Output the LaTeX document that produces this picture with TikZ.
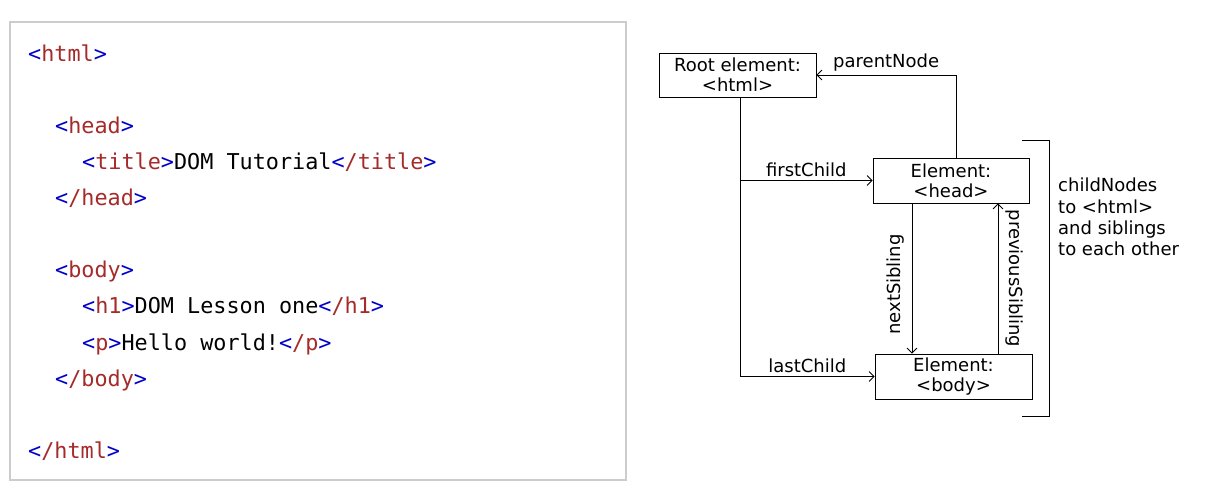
\documentclass[tikz,border=0pt]{standalone}
\usepackage{fontspec}
\setmainfont{DejaVu Sans}
\newfontfamily\codefont{DejaVu Sans Mono}
\usetikzlibrary{arrows.meta,positioning}
\definecolor{tagblue}{HTML}{0000CD}
\definecolor{tagred}{HTML}{A52A2A}
\definecolor{boxgray}{HTML}{CCCCCC}
\newcommand{\optag}[1]{\textcolor{tagblue}{<}\textcolor{tagred}{#1}\textcolor{tagblue}{>}}
\newcommand{\cltag}[1]{\textcolor{tagblue}{<}\textcolor{tagred}{/#1}\textcolor{tagblue}{>}}

\begin{document}
\begin{tikzpicture}[x=1pt,y=-1pt,
    codeline/.style={anchor=base west,inner sep=0pt,font=\codefont\fontsize{21.8}{24}\selectfont},
    elem/.style={draw,thick,minimum width=157pt,minimum height=45pt,inner sep=0pt,align=center,
      font=\fontsize{18}{20}\selectfont},
    lbl/.style={inner sep=1pt,font=\fontsize{18}{19.5}\selectfont},
    arr/.style={thick,-{Straight Barb[length=5pt,width=10pt]}}]
  \useasboundingbox (0,0) rectangle (1228,502);
  % code panel
  \draw[boxgray,line width=2pt] (10,22) rectangle (626,480);
  \node[codeline] (lhtml) at (28,62) {\optag{html}};
  \node[codeline] (lhead) at (55,134) {\optag{head}};
  \node[codeline] (ltitle) at (82,170) {\optag{title}DOM Tutorial\cltag{title}};
  \node[codeline] (lheadend) at (55,206) {\cltag{head}};
  \node[codeline] (lbody) at (55,278) {\optag{body}};
  \node[codeline] (lhone) at (82,314) {\optag{h1}DOM Lesson one\cltag{h1}};
  \node[codeline] (lpara) at (82,350) {\optag{p}Hello world!\cltag{p}};
  \node[codeline] (lbodyend) at (55,386) {\cltag{body}};
  \node[codeline] (lhtmlend) at (28,458) {\cltag{html}};
  % tree
  \node[elem,minimum height=44pt] (root) at (737.5,75) {Root element:\\<html>};
  \node[elem,minimum width=156pt] (head) at (951,180.5) {Element:\\<head>};
  \node[elem] (body) at (953.5,376.5) {Element:\\<body>};
  \coordinate (fork) at (740,0);
  \coordinate (up) at (956,0);
  \coordinate (nx) at (912,0);
  \coordinate (pv) at (998,0);
  \draw[thick] (root.south -| fork) -- (body.west -| fork);
  \draw[arr] (head.west -| fork) -- node[lbl,above=2pt] {firstChild} (head.west);
  \draw[arr] (body.west -| fork) -- node[lbl,above=2pt] {lastChild} (body.west);
  \draw[arr] (head.north -| up) |- node[lbl,pos=0.75,above=2pt] {parentNode} (root.east);
  \draw[arr] (head.south -| nx) -- node[lbl,pos=0.54,rotate=90,anchor=south,inner sep=7pt] {nextSibling} (body.north -| nx);
  \draw[arr] (body.north -| pv) -- node[lbl,rotate=-90,anchor=south,inner sep=7pt] {previousSibling} (head.south -| pv);
  % bracket
  \draw[thick] (1022,140) -| (1049,416) -- (1022,416);
  \node[lbl,anchor=north west,inner sep=0pt,align=left,font=\fontsize{18}{21.2}\selectfont] (kids) at (1058,178)
    {childNodes\\to <html>\\and siblings\\to each other};
\end{tikzpicture}
\end{document}
